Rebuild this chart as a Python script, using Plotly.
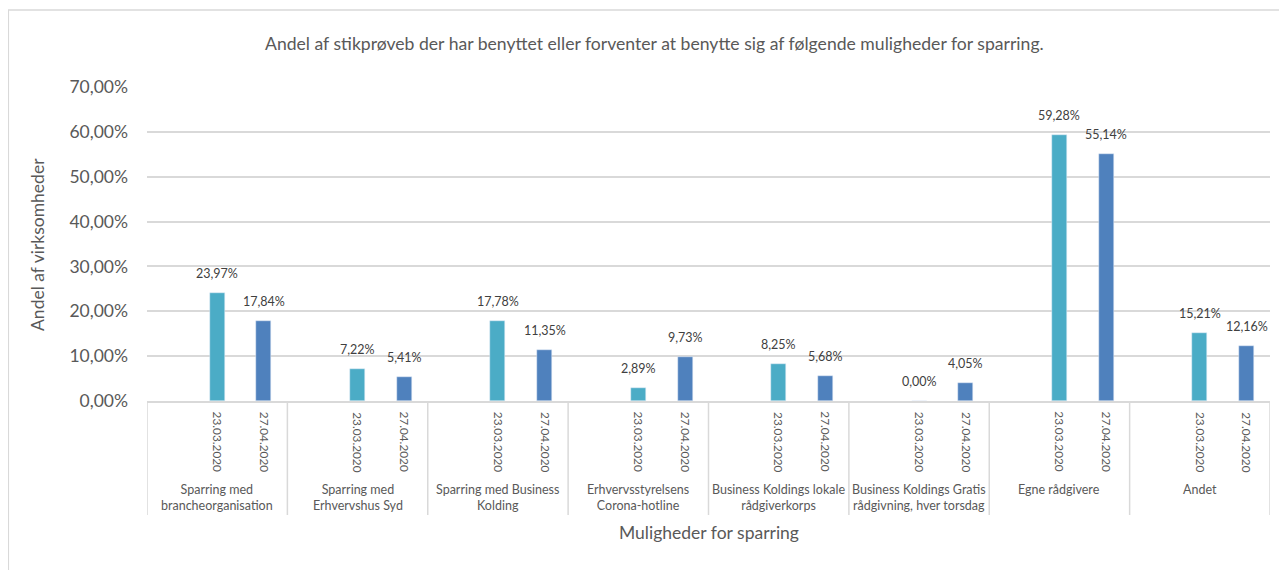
import plotly.graph_objects as go

groups = [
    "Sparring med<br>brancheorganisation",
    "Sparring med<br>Erhvervshus Syd",
    "Sparring med Business<br>Kolding",
    "Erhvervsstyrelsens<br>Corona-hotline",
    "Business Koldings lokale<br>rådgiverkorps",
    "Business Koldings Gratis<br>rådgivning, hver torsdag",
    "Egne rådgivere",
    "Andet",
]
dates = ["23.03.2020", "27.04.2020"]
vals_2303 = [23.97, 7.22, 17.78, 2.89, 8.25, 0.00, 59.28, 15.21]
vals_2704 = [17.84, 5.41, 11.35, 9.73, 5.68, 4.05, 55.14, 12.16]
yticks = [0, 10, 20, 30, 40, 50, 60, 70]

col_a = "#4BACC6"
col_b = "#4F81BD"
txt = "#595959"
font = "Lato, Carlito, Calibri, sans-serif"

def pct(v):
    return f"{v:.2f}".replace(".", ",") + "%"

# each group holds three slots: an empty one, then the two dates
xa = [3 * i + 1 for i in range(len(groups))]
xb = [3 * i + 2 for i in range(len(groups))]

fig = go.Figure()
ann = []
for xs, vals, col, name in [(xa, vals_2303, col_a, dates[0]), (xb, vals_2704, col_b, dates[1])]:
    fig.add_trace(go.Bar(x=xs, y=[v / 100 for v in vals], width=0.32,
                         marker_color=col, name=name))
    # data labels sit a bit higher than plotly's outside text would
    for x, v in zip(xs, vals):
        ann.append(dict(x=x, y=v / 100, xref="x", yref="y", text=pct(v), showarrow=False,
                        yanchor="bottom", xanchor="center", yshift=10,
                        font=dict(size=12.5, color="#404040", family=font)))

shapes = []
for i, g in enumerate(groups):
    for x, d in zip([xa[i], xb[i]], dates):
        ann.append(dict(x=x, y=-0.028, xref="x", yref="paper", text=d, textangle=90,
                        showarrow=False, yanchor="top", xanchor="center",
                        font=dict(size=11.8, color=txt, family=font)))
    ann.append(dict(x=3 * i + 1, y=-0.25, xref="x", yref="paper", text=g,
                    showarrow=False, yanchor="top", xanchor="center",
                    font=dict(size=12.5, color=txt, family=font)))
for k in range(len(groups) + 1):
    shapes.append(dict(type="line", xref="x", yref="paper", x0=3 * k - 0.5, x1=3 * k - 0.5,
                       y0=0, y1=-0.363, line=dict(color="#D9D9D9", width=1.5)))

ann.append(dict(x=0.452, y=1.137, xref="paper", yref="paper",
                text="Andel af stikprøveb der har benyttet eller forventer at benytte sig af følgende muligheder for sparring.",
                showarrow=False, xanchor="center", yanchor="middle",
                font=dict(size=17.6, color=txt, family=font)))
ann.append(dict(x=0.5, y=-0.418, xref="paper", yref="paper", text="Muligheder for sparring",
                showarrow=False, xanchor="center", yanchor="middle",
                font=dict(size=17.5, color=txt, family=font)))
ann.append(dict(x=-0.098, y=0.5, xref="paper", yref="paper", text="Andel af virksomheder",
                textangle=-90, showarrow=False, xanchor="center", yanchor="middle",
                font=dict(size=17.5, color=txt, family=font)))

# outer chart border
shapes.append(dict(type="rect", xref="paper", yref="paper", x0=-0.1235, x1=1.05,
                   y0=-0.7, y1=1.245, line=dict(color="#D9D9D9", width=1.5)))

# page body has an 8px margin, so the figure is drawn 8px in from the window corner
fig.update_layout(
    width=1279, height=562,
    margin=dict(l=139, r=17, t=79, b=169),
    paper_bgcolor="white", plot_bgcolor="white",
    showlegend=False, bargap=0,
    annotations=ann, shapes=shapes,
    xaxis=dict(range=[-0.5, 23.5], showticklabels=False, showgrid=False, zeroline=False,
               showline=True, linecolor="#D9D9D9", linewidth=1.5, ticks=""),
    yaxis=dict(range=[0, 0.7], tickvals=[t / 100 for t in yticks],
               ticktext=[pct(t) for t in yticks],
               showgrid=True, gridcolor="#D9D9D9", gridwidth=1.5, zeroline=False,
               tickfont=dict(size=17.5, color=txt, family=font), ticks="", ticklabelstandoff=18),
)

fig.write_html("out.html")
